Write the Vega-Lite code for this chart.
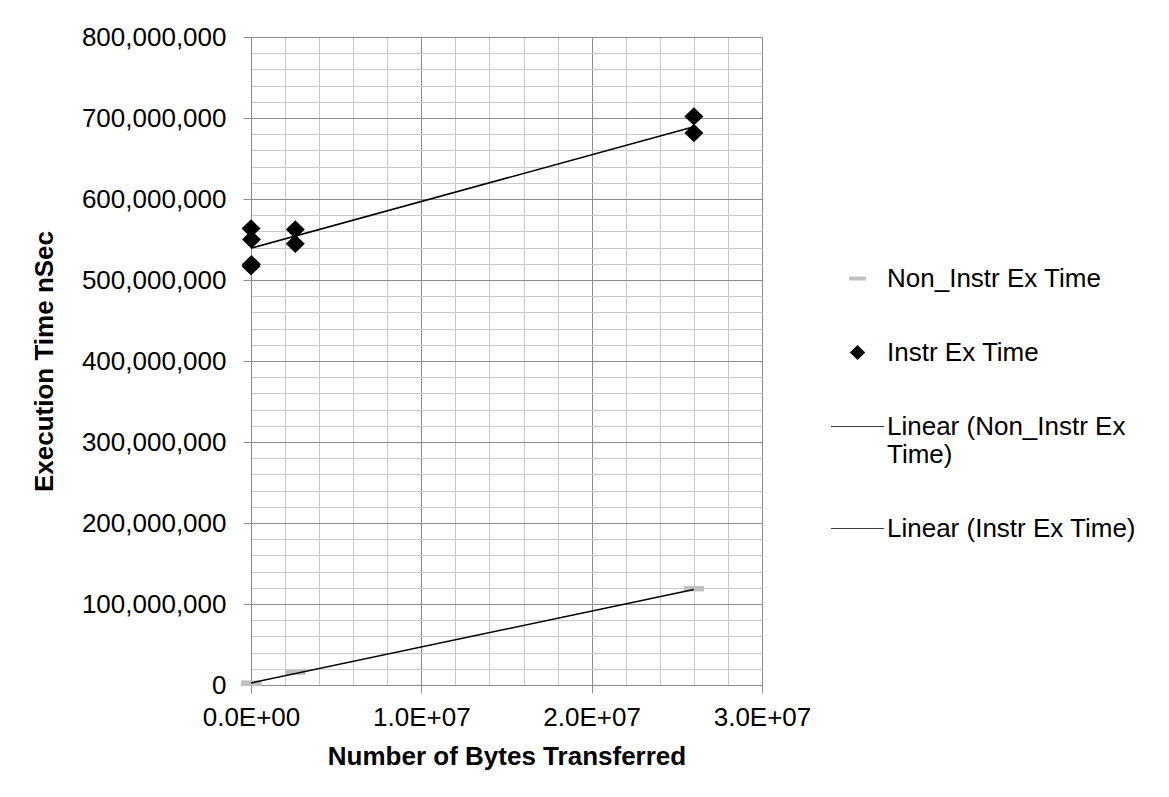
{
  "$schema": "https://vega.github.io/schema/vega-lite/v6.json",
  "width": 511,
  "height": 648,
  "autosize": {"type": "none"},
  "padding": {"left": 251, "top": 37, "right": 407, "bottom": 112},
  "background": "white",
  "config": {
    "font": "Liberation Sans",
    "view": {"stroke": null},
    "axis": {"labelFont": "Liberation Sans", "titleFont": "Liberation Sans", "labelColor": "#000000", "titleColor": "#000000"},
    "legend": {"labelFont": "Liberation Sans"}
  },
  "datasets": {
    "pts": [
      {"series": "Non_Instr Ex Time", "bytes": 2600, "time": 1800000},
      {"series": "Non_Instr Ex Time", "bytes": 2600, "time": 2100000},
      {"series": "Non_Instr Ex Time", "bytes": 26000, "time": 2300000},
      {"series": "Non_Instr Ex Time", "bytes": 26000, "time": 2600000},
      {"series": "Non_Instr Ex Time", "bytes": 2600000, "time": 15400000},
      {"series": "Non_Instr Ex Time", "bytes": 2600000, "time": 16000000},
      {"series": "Non_Instr Ex Time", "bytes": 26000000, "time": 118500000},
      {"series": "Non_Instr Ex Time", "bytes": 26000000, "time": 119300000},
      {"series": "Instr Ex Time", "bytes": 2600, "time": 563600000},
      {"series": "Instr Ex Time", "bytes": 2600, "time": 517000000},
      {"series": "Instr Ex Time", "bytes": 26000, "time": 550000000},
      {"series": "Instr Ex Time", "bytes": 26000, "time": 519500000},
      {"series": "Instr Ex Time", "bytes": 2600000, "time": 562400000},
      {"series": "Instr Ex Time", "bytes": 2600000, "time": 544800000},
      {"series": "Instr Ex Time", "bytes": 26000000, "time": 702000000},
      {"series": "Instr Ex Time", "bytes": 26000000, "time": 681500000}
    ],
    "trend": [
      {"series": "Linear (Non_Instr Ex Time)", "bytes": 2600, "time": 2500000},
      {"series": "Linear (Non_Instr Ex Time)", "bytes": 26000000, "time": 118000000},
      {"series": "Linear (Instr Ex Time)", "bytes": 2600, "time": 539300000},
      {"series": "Linear (Instr Ex Time)", "bytes": 26000000, "time": 689300000}
    ]
  },
  "layer": [
    {
      "data": {"name": "pts"},
      "transform": [{"filter": "datum.series == 'Non_Instr Ex Time'"}],
      "mark": {"type": "point", "filled": true, "opacity": 1, "size": 4030, "strokeWidth": 0},
      "encoding": {
        "x": {
          "field": "bytes", "type": "quantitative",
          "scale": {"domain": [0, 30000000], "nice": false, "zero": true},
          "axis": {"orient": "bottom", "values": [2000000, 4000000, 6000000, 8000000, 12000000, 14000000, 16000000, 18000000, 22000000, 24000000, 26000000, 28000000],
                   "grid": true, "gridColor": "#c8c8c8", "gridWidth": 1, "labels": false, "ticks": false, "domain": false, "title": null}
        },
        "y": {
          "field": "time", "type": "quantitative",
          "scale": {"domain": [0, 800000000], "nice": false, "zero": true},
          "axis": {"orient": "left", "values": [20000000, 40000000, 60000000, 80000000, 120000000, 140000000, 160000000, 180000000, 220000000, 240000000, 260000000, 280000000, 320000000, 340000000, 360000000, 380000000, 420000000, 440000000, 460000000, 480000000, 520000000, 540000000, 560000000, 580000000, 620000000, 640000000, 660000000, 680000000, 720000000, 740000000, 760000000, 780000000],
                   "grid": true, "gridColor": "#c8c8c8", "gridWidth": 1, "labels": false, "ticks": false, "domain": false, "title": null}
        },
        "color": {
          "field": "series", "type": "nominal",
          "scale": {"domain": ["Non_Instr Ex Time", "Instr Ex Time", "Linear (Non_Instr Ex Time)", "Linear (Instr Ex Time)"],
                    "range": ["#c0c0c0", "#000000", "#404040", "#404040"]},
          "legend": {"orient": "none", "legendX": 580, "legendY": 215, "title": null, "symbolSize": 2809, "labelFontSize": 26, "labelColor": "#000000", "rowPadding": 34, "labelLimit": 500, "labelOffset": 3, "padding": 0, "symbolStrokeWidth": 0, "symbolOpacity": 1,
                     "labelExpr": "datum.label == 'Linear (Non_Instr Ex Time)' ? ['Linear (Non_Instr Ex', 'Time)'] : datum.label"}
        },
        "shape": {
          "field": "series", "type": "nominal",
          "scale": {"domain": ["Non_Instr Ex Time", "Instr Ex Time", "Linear (Non_Instr Ex Time)", "Linear (Instr Ex Time)"],
                    "range": ["M-0.315,-0.075H0.315V0.075H-0.315Z", "M0,-0.28L0.29,0L0,0.28L-0.29,0Z", "M-1,-0.02H1V0.02H-1Z", "M-1,-0.02H1V0.02H-1Z"]},
          "legend": {"orient": "none", "legendX": 580, "legendY": 215, "title": null, "symbolSize": 2809, "labelFontSize": 26, "labelColor": "#000000", "rowPadding": 34, "labelLimit": 500, "labelOffset": 3, "padding": 0, "symbolStrokeWidth": 0, "symbolOpacity": 1,
                     "labelExpr": "datum.label == 'Linear (Non_Instr Ex Time)' ? ['Linear (Non_Instr Ex', 'Time)'] : datum.label"}
        }
      }
    },
    {
      "data": {"name": "pts"},
      "transform": [{"filter": "datum.series == 'Instr Ex Time'"}],
      "mark": {"type": "point", "filled": true, "opacity": 1, "size": 4290, "strokeWidth": 0},
      "encoding": {
        "x": {
          "field": "bytes", "type": "quantitative",
          "axis": {"orient": "bottom", "values": [0, 10000000, 20000000, 30000000], "grid": true, "gridColor": "#8c8c8c", "gridWidth": 1,
                   "domain": true, "domainColor": "#8c8c8c", "ticks": true, "tickColor": "#8c8c8c", "tickSize": 8,
                   "labelFontSize": 26, "labelPadding": 11, "labelDx": -5, "labelFlush": false, "labelOverlap": false,
                   "labelExpr": "replace(upper(format(datum.value, '.1e')), 'E+', 'E+0')",
                   "title": "Number of Bytes Transferred", "titleFontSize": 26, "titleFontWeight": "bold", "titlePadding": 13}
        },
        "y": {
          "field": "time", "type": "quantitative",
          "axis": {"orient": "left", "values": [0, 100000000, 200000000, 300000000, 400000000, 500000000, 600000000, 700000000, 800000000], "format": ",d",
                   "grid": true, "gridColor": "#8c8c8c", "gridWidth": 1,
                   "domain": true, "domainColor": "#8c8c8c", "ticks": true, "tickColor": "#8c8c8c", "tickSize": 8,
                   "labelFontSize": 26, "labelPadding": 17, "labelFlush": false, "labelOverlap": false,
                   "title": "Execution Time nSec", "titleFontSize": 26, "titleFontWeight": "bold", "titlePadding": 24}
        },
        "color": {"field": "series", "type": "nominal"},
        "shape": {"field": "series", "type": "nominal"}
      }
    },
    {
      "data": {"name": "trend"},
      "mark": {"type": "line", "color": "#000000", "strokeWidth": 1.5},
      "encoding": {
        "x": {"field": "bytes", "type": "quantitative", "axis": null},
        "y": {"field": "time", "type": "quantitative", "axis": null},
        "detail": {"field": "series", "type": "nominal"}
      }
    }
  ],
  "resolve": {"axis": {"x": "independent", "y": "independent"}}
}
